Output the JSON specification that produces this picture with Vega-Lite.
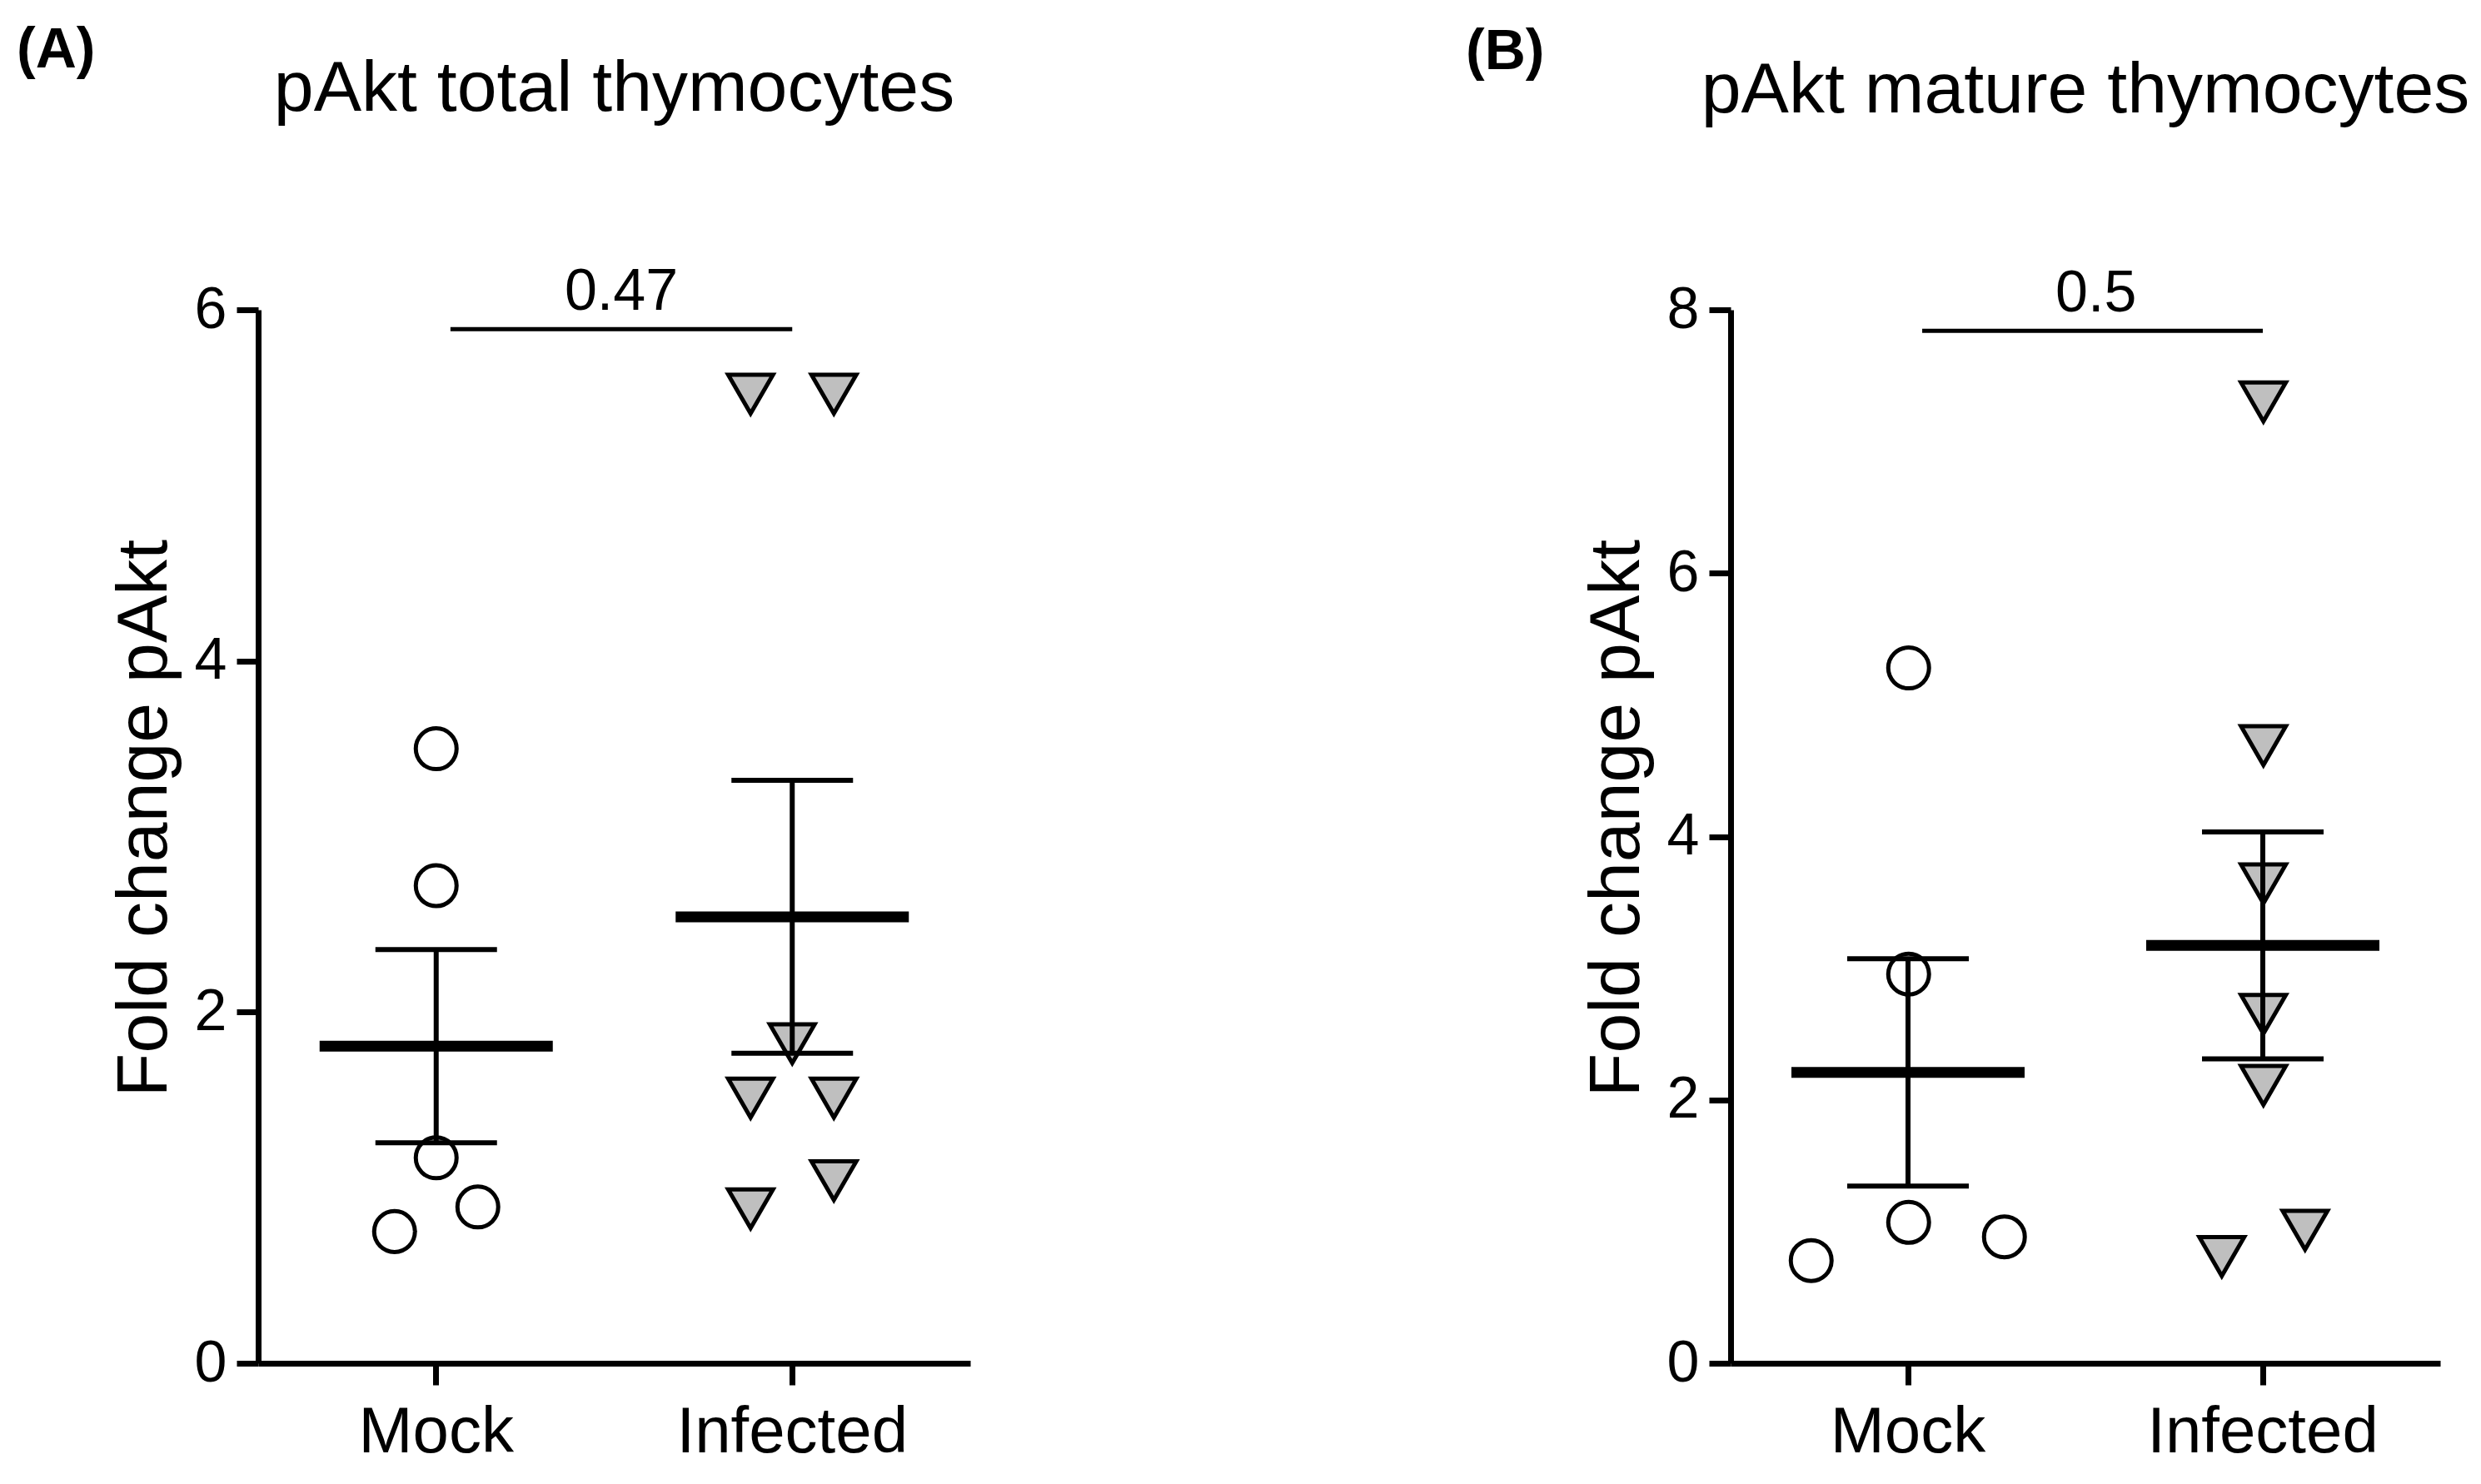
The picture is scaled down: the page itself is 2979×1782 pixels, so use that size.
{
  "$schema": "https://vega.github.io/schema/vega-lite/v6.json",
  "background": "white",
  "padding": {"left": 20, "top": 27, "right": 0, "bottom": 0},
  "spacing": 595,
  "datasets": {
    "ptsA": [
      {"group": "Mock", "value": 3.5, "lane": 0},
      {"group": "Mock", "value": 2.72, "lane": 0},
      {"group": "Mock", "value": 1.17, "lane": 0},
      {"group": "Mock", "value": 0.89, "lane": 1},
      {"group": "Mock", "value": 0.75, "lane": -1},
      {"group": "Infected", "value": 5.52, "lane": -1},
      {"group": "Infected", "value": 5.52, "lane": 1},
      {"group": "Infected", "value": 1.82, "lane": 0},
      {"group": "Infected", "value": 1.51, "lane": -1},
      {"group": "Infected", "value": 1.51, "lane": 1},
      {"group": "Infected", "value": 1.04, "lane": 1},
      {"group": "Infected", "value": 0.88, "lane": -1}
    ],
    "ptsB": [
      {"group": "Mock", "value": 5.28, "lane": 0},
      {"group": "Mock", "value": 2.955, "lane": 0},
      {"group": "Mock", "value": 1.07, "lane": 0},
      {"group": "Mock", "value": 0.96, "lane": 2.3},
      {"group": "Mock", "value": 0.78, "lane": -2.34},
      {"group": "Infected", "value": 7.3, "lane": 0},
      {"group": "Infected", "value": 4.69, "lane": 0},
      {"group": "Infected", "value": 3.64, "lane": 0},
      {"group": "Infected", "value": 2.65, "lane": 0},
      {"group": "Infected", "value": 2.11, "lane": 0},
      {"group": "Infected", "value": 1.01, "lane": 1},
      {"group": "Infected", "value": 0.81, "lane": -1}
    ],
    "sigA": [{"from": "Mock", "to": "Infected", "y": 5.89, "label": "0.47"}],
    "sigB": [{"from": "Mock", "to": "Infected", "y": 7.84, "label": "0.5"}]
  },
  "hconcat": [
    {
      "title": {"text": "(A)", "anchor": "start", "fontSize": 68, "fontWeight": "bold", "dx": -110, "offset": -85, "baseline": "alphabetic"},
      "hconcat": [
        {
          "width": 855,
          "height": 1265,
          "title": {"text": "pAkt total thymocytes", "fontSize": 86, "fontWeight": "normal", "anchor": "middle", "frame": "group", "baseline": "alphabetic", "offset": 97},
          "layer": [
            {
              "data": {"name": "ptsA"},
              "mark": {"type": "point", "filled": true, "stroke": "black", "strokeWidth": 5, "opacity": 1},
              "encoding": {
                "x": {"field": "group", "type": "nominal", "scale": {"type": "band", "domain": ["Mock", "Infected"], "paddingInner": 0, "paddingOuter": 0}, "axis": {"title": null}},
                "xOffset": {"field": "lane", "type": "quantitative", "scale": {"domain": [-1, 1], "range": [163.75, 263.75]}},
                "y": {"field": "value", "type": "quantitative", "scale": {"domain": [0, 6]}, "axis": {"title": "Fold change pAkt", "values": [0, 2, 4, 6], "format": "d", "titleY": 610}},
                "shape": {"field": "group", "type": "nominal", "scale": {"domain": ["Mock", "Infected"], "range": ["circle", "triangle-down"]}, "legend": null},
                "fill": {"field": "group", "type": "nominal", "scale": {"domain": ["Mock", "Infected"], "range": ["#ffffff", "#bfbfbf"]}, "legend": null},
                "size": {"field": "group", "type": "nominal", "scale": {"domain": ["Mock", "Infected"], "range": [2400, 2900]}, "legend": null}
              }
            },
            {
              "data": {"name": "ptsA"},
              "mark": {"type": "tick", "orient": "horizontal", "size": 280, "thickness": 13, "color": "black", "opacity": 1},
              "encoding": {
                "x": {"field": "group", "type": "nominal"},
                "y": {"field": "value", "type": "quantitative", "aggregate": "mean", "title": "Fold change pAkt"}
              }
            },
            {
              "data": {"name": "ptsA"},
              "mark": {"type": "errorbar", "extent": "stderr", "color": "black", "thickness": 6, "rule": {"opacity": 1, "color": "black"}, "ticks": {"size": 146, "thickness": 6, "color": "black", "opacity": 1}},
              "encoding": {
                "x": {"field": "group", "type": "nominal"},
                "y": {"field": "value", "type": "quantitative", "title": "Fold change pAkt"}
              }
            },
            {
              "data": {"name": "sigA"},
              "mark": {"type": "rule", "strokeWidth": 5, "color": "black"},
              "encoding": {
                "x": {"field": "from", "type": "nominal", "bandPosition": 0.54},
                "x2": {"field": "to"},
                "y": {"field": "y", "type": "quantitative", "title": "Fold change pAkt"}
              }
            },
            {
              "data": {"name": "sigA"},
              "mark": {"type": "text", "fontSize": 70, "baseline": "bottom", "dy": -8, "color": "black"},
              "encoding": {
                "x": {"field": "from", "type": "nominal", "bandPosition": 1.02},
                "y": {"field": "y", "type": "quantitative", "title": "Fold change pAkt"},
                "text": {"field": "label"}
              }
            }
          ]
        }
      ]
    },
    {
      "title": {"text": "(B)", "anchor": "start", "fontSize": 68, "fontWeight": "bold", "dx": -138, "offset": -85, "baseline": "alphabetic"},
      "hconcat": [
        {
          "width": 852,
          "height": 1265,
          "title": {"text": "pAkt mature thymocytes", "fontSize": 86, "fontWeight": "normal", "anchor": "middle", "frame": "group", "baseline": "alphabetic", "offset": 97},
          "layer": [
            {
              "data": {"name": "ptsB"},
              "mark": {"type": "point", "filled": true, "stroke": "black", "strokeWidth": 5, "opacity": 1},
              "encoding": {
                "x": {"field": "group", "type": "nominal", "scale": {"type": "band", "domain": ["Mock", "Infected"], "paddingInner": 0, "paddingOuter": 0}, "axis": {"title": null}},
                "xOffset": {"field": "lane", "type": "quantitative", "scale": {"domain": [-1, 1], "range": [163, 263]}},
                "y": {"field": "value", "type": "quantitative", "scale": {"domain": [0, 8]}, "axis": {"title": "Fold change pAkt", "values": [0, 2, 4, 6, 8], "format": "d", "titleY": 610}},
                "shape": {"field": "group", "type": "nominal", "scale": {"domain": ["Mock", "Infected"], "range": ["circle", "triangle-down"]}, "legend": null},
                "fill": {"field": "group", "type": "nominal", "scale": {"domain": ["Mock", "Infected"], "range": ["#ffffff", "#bfbfbf"]}, "legend": null},
                "size": {"field": "group", "type": "nominal", "scale": {"domain": ["Mock", "Infected"], "range": [2400, 2900]}, "legend": null}
              }
            },
            {
              "data": {"name": "ptsB"},
              "mark": {"type": "tick", "orient": "horizontal", "size": 280, "thickness": 13, "color": "black", "opacity": 1},
              "encoding": {
                "x": {"field": "group", "type": "nominal"},
                "y": {"field": "value", "type": "quantitative", "aggregate": "mean", "title": "Fold change pAkt"}
              }
            },
            {
              "data": {"name": "ptsB"},
              "mark": {"type": "errorbar", "extent": "stderr", "color": "black", "thickness": 6, "rule": {"opacity": 1, "color": "black"}, "ticks": {"size": 146, "thickness": 6, "color": "black", "opacity": 1}},
              "encoding": {
                "x": {"field": "group", "type": "nominal"},
                "y": {"field": "value", "type": "quantitative", "title": "Fold change pAkt"}
              }
            },
            {
              "data": {"name": "sigB"},
              "mark": {"type": "rule", "strokeWidth": 5, "color": "black"},
              "encoding": {
                "x": {"field": "from", "type": "nominal", "bandPosition": 0.54},
                "x2": {"field": "to"},
                "y": {"field": "y", "type": "quantitative", "title": "Fold change pAkt"}
              }
            },
            {
              "data": {"name": "sigB"},
              "mark": {"type": "text", "fontSize": 70, "baseline": "bottom", "dy": -8, "color": "black"},
              "encoding": {
                "x": {"field": "from", "type": "nominal", "bandPosition": 1.03},
                "y": {"field": "y", "type": "quantitative", "title": "Fold change pAkt"},
                "text": {"field": "label"}
              }
            }
          ]
        }
      ]
    }
  ],
  "config": {
    "font": "Liberation Sans",
    "view": {"stroke": null},
    "title": {"color": "black", "font": "Liberation Sans"},
    "axis": {
      "grid": false,
      "domainColor": "black",
      "domainWidth": 7,
      "tickColor": "black",
      "tickWidth": 7,
      "tickSize": 26,
      "labelColor": "black",
      "labelFont": "Liberation Sans",
      "labelLimit": 0,
      "titleColor": "black",
      "titleFont": "Liberation Sans",
      "titleFontWeight": "normal"
    },
    "axisY": {"labelFontSize": 70, "labelPadding": 12, "titleFontSize": 86, "titlePadding": 16},
    "axisX": {"labelFontSize": 78, "labelPadding": 18, "labelAngle": 0}
  }
}
